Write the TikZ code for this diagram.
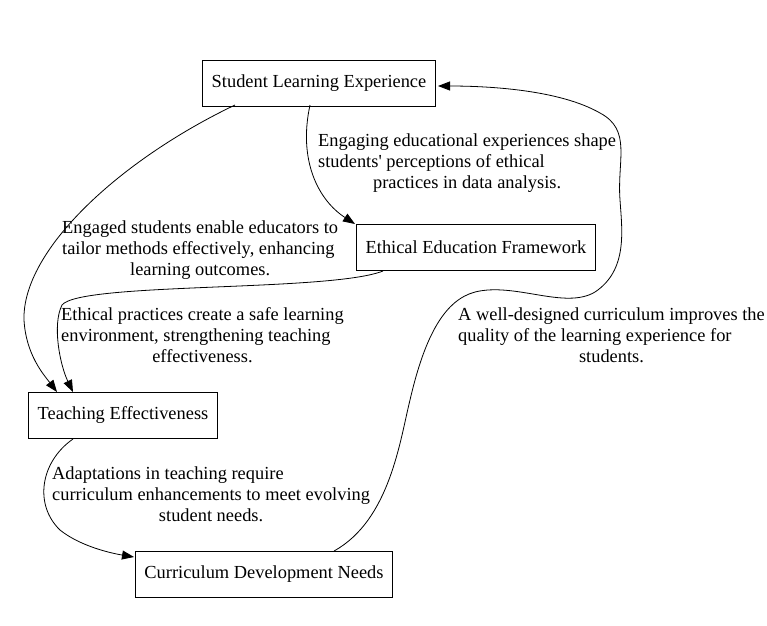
\documentclass[tikz,border=0pt]{standalone}
\usepackage{fontspec}
\setmainfont{Liberation Serif}
\usetikzlibrary{arrows.meta}

\tikzstyle{box} = [draw, thick, rectangle, minimum height=46pt, inner xsep=9pt, font=\fontsize{18.4}{21}\selectfont]
\tikzstyle{note} = [anchor=west, inner sep=0pt, font=\fontsize{18.4}{21}\selectfont]
\tikzstyle{link} = [thick, -{Triangle[length=12pt,width=9pt]}]

\begin{document}
\begin{tikzpicture}[x=1pt, y=-1pt]
\useasboundingbox (0,0) rectangle (767,625);

\node[box] (sle) at (319,83) {Student Learning Experience};
\node[box] (eef) at (476,247) {Ethical Education Framework};
\node[box] (te) at (123,415) {Teaching Effectiveness};
\node[box] (cdn) at (264,574) {Curriculum Development Needs};

\coordinate (a1) at (310,105);
\coordinate (a2) at (235,105);
\coordinate (b1) at (383,271);
\coordinate (c1) at (73,439);
\coordinate (d1) at (334,551);

\draw[link] (a1) .. controls (298,160) and (318,200) .. (355,224);
\draw[link] (a2) .. controls (120,160) and (22,250) .. (24,320) .. controls (26,355) and (44,375) .. (57,392);
\draw[link] (b1) .. controls (330,292) and (80,282) .. (62,305) .. controls (52,325) and (60,365) .. (73,392);
\draw[link] (c1) .. controls (40,462) and (34,505) .. (60,530) .. controls (80,546) and (110,553) .. (134,557);
\draw[link] (d1) .. controls (390,520) and (400,440) .. (410,400)
  .. controls (425,335) and (445,300) .. (475,292)
  .. controls (515,282) and (565,310) .. (595,292)
  .. controls (628,270) and (622,230) .. (620,200)
  .. controls (617,160) and (632,130) .. (600,113)
  .. controls (560,90) and (490,86) .. (438,86);

\node[note] (l1) at (318,163) {\begin{tabular}{@{}l@{}}Engaging educational experiences shape\\students\textquotesingle{} perceptions of ethical\\\multicolumn{1}{@{}c@{}}{practices in data analysis.}\end{tabular}};
\node[note] (l2) at (62,250) {\begin{tabular}{@{}l@{}}Engaged students enable educators to\\tailor methods effectively, enhancing\\\multicolumn{1}{@{}c@{}}{learning outcomes.}\end{tabular}};
\node[note] (l3) at (61,337) {\begin{tabular}{@{}l@{}}Ethical practices create a safe learning\\environment, strengthening teaching\\\multicolumn{1}{@{}c@{}}{effectiveness.}\end{tabular}};
\node[note] (l4) at (52,496) {\begin{tabular}{@{}l@{}}Adaptations in teaching require\\curriculum enhancements to meet evolving\\\multicolumn{1}{@{}c@{}}{student needs.}\end{tabular}};
\node[note] (l5) at (458,337) {\begin{tabular}{@{}l@{}}A well-designed curriculum improves the\\quality of the learning experience for\\\multicolumn{1}{@{}c@{}}{students.}\end{tabular}};

\end{tikzpicture}
\end{document}
